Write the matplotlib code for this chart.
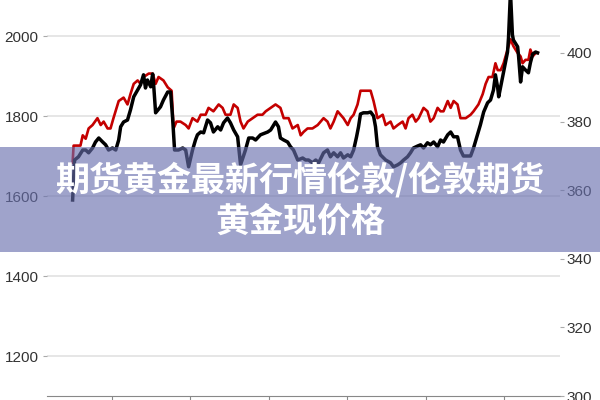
import matplotlib
matplotlib.use('Agg')
import matplotlib.pyplot as plt
from matplotlib.patches import Rectangle

# black series (left axis): month index vs price
black_x = [0.0, 0.6, 1.8, 3.1, 4.0, 4.9, 6.1, 7.0, 8.0, 9.2, 10.1, 11.0, 12.2, 13.2, 14.1,
           14.7, 15.6, 16.8, 17.7, 18.7, 19.9, 20.8, 21.7, 22.3, 22.9, 23.9, 24.5, 24.8,
           25.4, 26.9, 27.8, 29.1, 30.0, 30.6, 31.2, 32.4, 33.7, 34.6, 35.5, 36.7, 37.6,
           38.2, 39.2, 40.1, 41.3, 42.2, 43.1, 44.4, 45.3, 46.2, 47.4, 48.3, 49.3, 50.5,
           51.4, 52.9, 53.9, 55.1, 56.0, 57.5, 59.7, 60.6, 62.1, 63.0, 63.6, 64.6, 65.8,
           66.7, 67.6, 68.9, 70.4, 71.3, 72.2, 73.4, 74.4, 75.3, 76.8, 78.0, 78.9, 79.9,
           81.1, 82.0, 82.9, 84.2, 85.1, 86.0, 86.9, 87.5, 88.1, 89.0, 90.3, 91.2, 92.1,
           92.7, 93.3, 94.2, 95.8, 97.3, 98.2, 99.5, 100.4, 101.3, 102.5, 103.4, 104.3,
           105.6, 106.5, 107.4, 108.6, 109.5, 110.5, 111.7, 112.6, 113.5, 114.8, 115.7,
           116.6, 117.8, 118.7, 119.6, 121.8, 122.7, 123.9, 124.8, 125.8, 127.0, 127.9,
           128.8, 129.4, 130.1, 130.4, 131.0, 131.9, 133.1, 133.4, 134.0, 134.6, 134.9,
           136.2, 136.5, 137.1, 137.7, 138.6, 139.5, 140.1, 140.8, 141.7, 142.3]
black_y = [1590, 1690, 1698, 1715, 1715, 1708, 1720, 1735, 1745, 1735, 1728, 1715, 1720,
           1715, 1740, 1773, 1785, 1790, 1815, 1848, 1865, 1878, 1903, 1870, 1890, 1873,
           1905, 1878, 1808, 1823, 1840, 1860, 1860, 1795, 1715, 1715, 1720, 1715, 1673,
           1715, 1740, 1753, 1760, 1758, 1790, 1783, 1760, 1773, 1765, 1783, 1795, 1783,
           1765, 1748, 1678, 1715, 1745, 1745, 1740, 1753, 1760, 1765, 1785, 1773, 1745,
           1740, 1735, 1723, 1715, 1690, 1695, 1690, 1690, 1683, 1690, 1683, 1708, 1715,
           1698, 1708, 1698, 1708, 1695, 1703, 1698, 1715, 1748, 1773, 1805, 1808, 1808,
           1810, 1800, 1773, 1723, 1703, 1690, 1683, 1673, 1678, 1683, 1690, 1698, 1708,
           1720, 1725, 1728, 1720, 1733, 1728, 1735, 1723, 1740, 1735, 1753, 1760, 1748,
           1748, 1715, 1700, 1700, 1720, 1753, 1778, 1810, 1833, 1840, 1865, 1903, 1870,
           1848, 1873, 1910, 1960, 1995, 2110, 2003, 1990, 1973, 1948, 1885, 1923, 1915,
           1908, 1933, 1955, 1960, 1958]

# red series (right axis)
red_x = [0.0, 0.3, 1.5, 2.4, 3.1, 4.0, 4.9, 6.1, 7.6, 8.6, 9.5, 10.7, 11.6, 12.5, 14.1,
         15.6, 16.8, 17.7, 18.7, 19.9, 20.8, 21.7, 23.3, 24.5, 25.4, 26.3, 27.8, 29.1,
         30.3, 30.9, 31.8, 33.0, 34.6, 35.5, 36.7, 38.2, 39.2, 40.7, 41.6, 43.1, 44.7,
         45.9, 46.8, 48.3, 49.3, 50.5, 51.4, 52.3, 53.6, 55.1, 56.6, 58.1, 59.1, 60.6,
         62.1, 63.6, 64.6, 66.1, 67.3, 68.9, 69.8, 70.7, 71.9, 73.4, 75.0, 75.9, 76.8,
         78.0, 78.9, 79.9, 81.1, 82.0, 82.9, 84.2, 85.1, 86.0, 87.2, 88.1, 89.7, 91.2,
         92.1, 93.3, 94.9, 95.8, 97.3, 98.2, 99.5, 101.0, 101.9, 102.8, 104.0, 105.0,
         105.9, 107.4, 108.6, 109.5, 110.5, 111.7, 112.6, 113.5, 114.8, 115.7, 116.6,
         117.8, 118.7, 120.3, 121.8, 122.7, 124.2, 125.5, 126.4, 127.3, 128.5, 129.4,
         130.1, 131.0, 131.9, 133.1, 134.0, 134.9, 136.2, 137.1, 137.7, 138.6, 139.5,
         140.1, 140.8, 141.7, 142.3]
red_y = [368, 373, 373, 373, 376, 375, 378, 379, 381, 379, 380, 378, 378, 381, 386, 387,
         385, 388, 391, 392, 391, 393, 394, 394, 391, 393, 392, 390, 389, 378, 380, 380,
         379, 378, 381, 380, 382, 382, 384, 383, 385, 384, 382, 382, 385, 384, 380, 378,
         380, 381, 382, 382, 383, 384, 385, 384, 381, 381, 378, 379, 376, 377, 378, 378,
         379, 380, 381, 380, 378, 380, 383, 382, 381, 379, 381, 382, 385, 389, 389, 389,
         386, 381, 382, 379, 380, 378, 379, 380, 378, 381, 382, 380, 381, 384, 383, 380,
         381, 384, 383, 383, 386, 384, 386, 385, 381, 381, 382, 383, 385, 388, 391, 393,
         393, 397, 395, 395, 397, 401, 404, 402, 400, 399, 397, 398, 398, 401, 399, 400,
         400]

left_ticks = [1200, 1400, 1600, 1800, 2000]
right_ticks = [300, 320, 340, 360, 380, 400]
x_ticks = [12, 36, 60, 84, 108, 132]
title = '期货黄金最新行情伦敦/伦敦期货\n黄金现价格'

fig = plt.figure(figsize=(6, 4), dpi=100)
ax = fig.add_axes([0.078, 0.01, 0.855, 0.99])
ax2 = ax.twinx()


def style_labels(a):
    for t in a.get_yticklabels():
        t.set_fontfamily('Liberation Sans')
        t.set_fontsize(11)
        t.set_color('#333333')


ax.set_ylim(1100, 2090)
ax.set_xlim(-7.9, 149.1)
ax.set_yticks(left_ticks)
ax.set_xticks(x_ticks)
ax.set_xticklabels([])
ax.grid(axis='y', color='#e2e2e2', linewidth=1.2)
ax.set_axisbelow(True)
for s in ['top', 'right', 'left']:
    ax.spines[s].set_visible(False)
ax.spines['bottom'].set_color('#888888')
ax.tick_params(axis='y', length=3, color='#aaaaaa', pad=3)
ax.tick_params(axis='x', length=3, color='#888888')
style_labels(ax)

ax2.set_ylim(300, 415.45)
ax2.set_yticks(right_ticks)
for s in ['top', 'right', 'left', 'bottom']:
    ax2.spines[s].set_visible(False)
ax2.tick_params(axis='y', length=3, color='#aaaaaa', pad=2)
style_labels(ax2)
ax2.plot(red_x, red_y, color='#c40000', linewidth=1.9)

# black line on top of red, on a hidden twin of the left axis
ax3 = ax.twinx()
ax3.set_ylim(1100, 2090)
ax3.axis('off')
ax3.plot(black_x, black_y, color='#000000', linewidth=2.5)

# banner
fig.patches.append(Rectangle((0, 0.37), 1, 0.2625, transform=fig.transFigure,
                             facecolor=(103/255, 110/255, 173/255), alpha=0.63,
                             edgecolor='none', zorder=10))
fig.text(0.5, 0.5, title, ha='center', va='center', color='white', fontsize=24.5,
         fontweight='bold', linespacing=1.2, family=['Noto Sans CJK SC', 'DejaVu Sans'],
         zorder=11)

fig.savefig('out.png', dpi=100)
